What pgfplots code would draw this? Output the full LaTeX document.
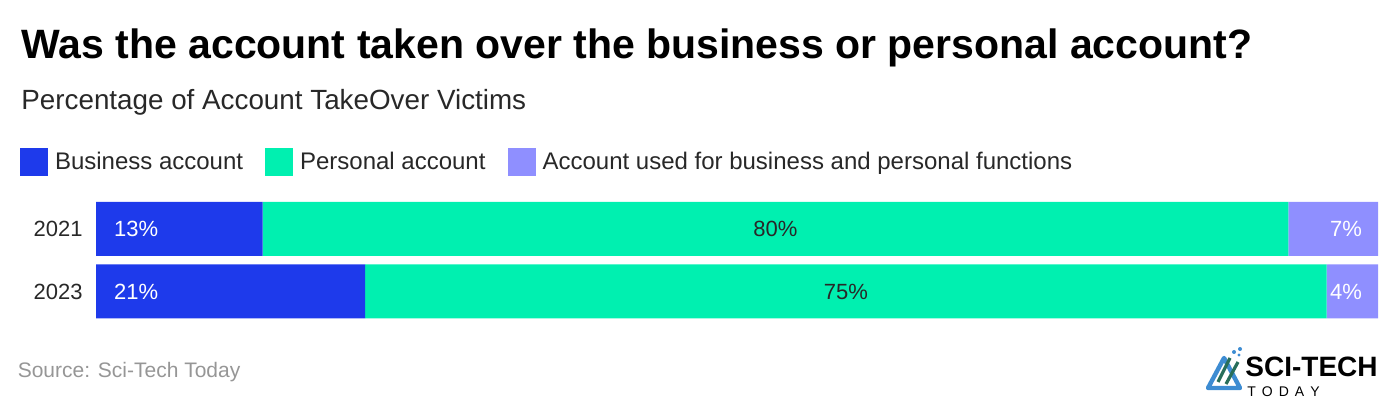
\documentclass[border=0pt]{standalone}
\usepackage{pgfplots}
\pgfplotsset{compat=1.18}
\usepackage{fontspec}
\setmainfont{Liberation Sans}
\definecolor{biz}{RGB}{30,58,235}
\definecolor{pers}{RGB}{0,240,176}
\definecolor{both}{RGB}{143,143,255}
\definecolor{txt}{RGB}{40,40,40}
\definecolor{src}{RGB}{150,150,150}
\definecolor{logoblue}{RGB}{61,140,210}
\definecolor{logogreen}{RGB}{40,110,90}
\begin{document}
\begin{tikzpicture}
\path[use as bounding box] (0,0) rectangle (700pt,203pt);
\pgfplotsset{base/.style={
  at={(48pt,41.625pt)}, anchor=south west, scale only axis,
  width=641pt, height=62.5pt,
  xmin=0, xmax=100, ymin=-0.5, ymax=1.5,
  axis line style={draw=none}, tick style={draw=none},
  xtick=\empty, clip=false}}
\begin{axis}[base, xbar stacked, bar width=27pt,
  ytick={0,1}, yticklabels={2023,2021},
  yticklabel style={font=\fontsize{11}{13}\selectfont, text=txt, inner xsep=0pt, xshift=-6.5pt},
  legend columns=-1,
  legend style={at={(-0.05928,1.286)}, anchor=west, draw=none, fill=none,
    inner sep=0pt, outer sep=0pt,
    font=\fontsize{12}{14}\selectfont, text=txt,
    nodes={inner xsep=3.5pt, inner ysep=0pt},
    /tikz/every even column/.append style={column sep=7.5pt}},
  legend image code/.code={\fill[#1] (0pt,-7pt) rectangle (14pt,7pt);}]
\addplot[fill=biz, draw=none] coordinates {(13,1) (21,0)};
\addplot[fill=pers, draw=none] coordinates {(80,1) (75,0)};
\addplot[fill=both, draw=none] coordinates {(7,1) (4,0)};
\legend{Business account, Personal account, Account used for business and personal functions}
\end{axis}
\begin{axis}[base, hide axis]
\addplot[draw=none, mark=none, nodes near coords, point meta=explicit symbolic,
  every node near coord/.append style={anchor=west, xshift=5.5pt, text=white, font=\fontsize{11}{13}\selectfont}]
  coordinates {(0,1) [13\%] (0,0) [21\%]};
\addplot[draw=none, mark=none, nodes near coords, point meta=explicit symbolic,
  every node near coord/.append style={anchor=center, text=txt, font=\fontsize{11}{13}\selectfont}]
  coordinates {(53,1) [80\%] (58.5,0) [75\%]};
\addplot[draw=none, mark=none, nodes near coords, point meta=explicit symbolic,
  every node near coord/.append style={anchor=east, xshift=-4.5pt, text=white, font=\fontsize{11}{13}\selectfont}]
  coordinates {(100,1) [7\%] (100,0) [4\%]};
\end{axis}
\node[anchor=base west, inner sep=0pt, font=\fontsize{20.5}{24}\selectfont\bfseries] at (10.5pt,173.5pt)
  {Was the account taken over the business or personal account?};
\node[anchor=base west, inner sep=0pt, text=txt, font=\fontsize{13.9}{16}\selectfont] at (10.5pt,148pt)
  {Percentage of Account TakeOver Victims};
\node[anchor=base west, inner sep=0pt, text=src, font=\fontsize{10.5}{12}\selectfont] at (8.7pt,14.4pt)
  {Source: Sci-Tech Today};
% logo
\draw[logoblue, line width=2.2pt, line join=round] (604pt,9pt) -- (612pt,24pt) -- (620pt,9pt) -- cycle;
\draw[logogreen, line width=1.6pt] (609pt,12pt) -- (615pt,24pt);
\draw[logogreen, line width=1.6pt] (613pt,11pt) -- (619pt,22pt);
\fill[logoblue] (617pt,27pt) circle (1pt) (620pt,28.5pt) circle (1pt) (619.5pt,25.5pt) circle (0.8pt);
\node[anchor=base west, inner sep=0pt, font=\fontsize{14}{16}\selectfont\bfseries] at (622.5pt,14.5pt) {SCI-TECH};
\node[anchor=base west, inner sep=0pt, font=\fontsize{7}{8}\selectfont] at (623.5pt,5pt)
  {T\hspace{3pt}O\hspace{3pt}D\hspace{3pt}A\hspace{3pt}Y};
\end{tikzpicture}
\end{document}
